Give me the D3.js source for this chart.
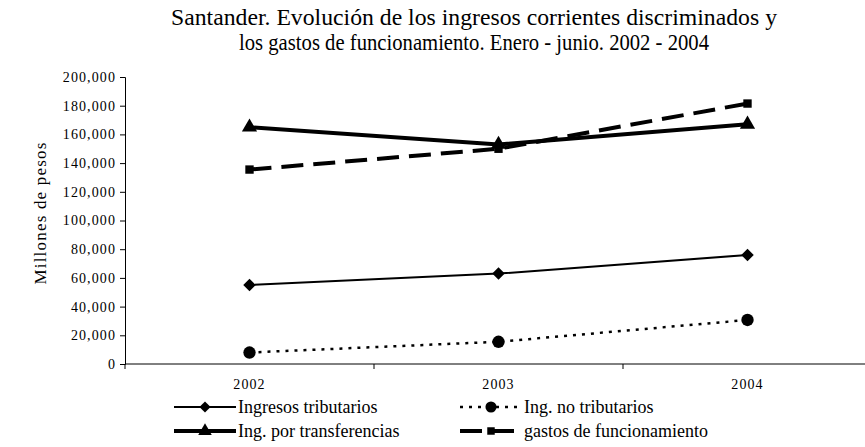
<!DOCTYPE html>
<html><head><meta charset="utf-8">
<script src="https://cdn.jsdelivr.net/npm/d3@7"></script>
<style>body{margin:0;background:#fff}svg{display:block}</style>
</head><body>
<svg id="c" width="865" height="447"></svg>
<script>
const years = ["2002","2003","2004"];
const tributarios = [55000, 63000, 76000];
const noTributarios = [8000, 15500, 30700];
const transferencias = [165000, 153000, 167000];
const gastos = [135500, 150000, 181500];
const yTicks = [0,20000,40000,60000,80000,100000,120000,140000,160000,180000,200000];
const seriesNames = ["Ingresos tributarios","Ing. no tributarios","Ing. por transferencias","gastos de funcionamiento"];
const titleLines = ["Santander. Evolución de los ingresos corrientes discriminados y","los gastos de funcionamiento. Enero - junio. 2002 - 2004"];

const SERIF = "'Liberation Serif', 'Times New Roman', serif";
const svg = d3.select("#c");
const x = d3.scaleBand().domain(years).range([125, 872]);
const y = d3.scaleLinear().domain([0, 200000]).range([364, 77]);

// title
svg.append("g").selectAll("text").data(titleLines).join("text")
  .attr("x", 474).attr("y", (d,i)=>25 + i*25)
  .attr("text-anchor","middle")
  .attr("textLength", (d,i)=> i===0 ? 606 : 470)
  .attr("lengthAdjust","spacingAndGlyphs")
  .style("font-family",SERIF).style("font-size","23.5px").style("fill","#000")
  .text(d=>d);

// y axis
const ya = svg.append("g").attr("transform","translate(125,0)")
  .call(d3.axisLeft(y).tickValues(yTicks).tickSize(5).tickPadding(4).tickFormat(d3.format(",")));
ya.attr("font-family", null);
ya.select(".domain").attr("stroke","#000");
ya.selectAll("line").attr("stroke","#000");
ya.selectAll("text").style("font-family",SERIF).style("font-size","14px")
  .style("letter-spacing","1.1px").style("fill","#000");

// x axis
const xa = svg.append("g").attr("transform","translate(0,364)")
  .call(d3.axisBottom(x).tickSize(0).tickPadding(0).tickFormat(""));
xa.select(".domain").attr("stroke","#000").attr("d","M125,0H865");
const bounds = years.map(d => x(d));
svg.append("g").selectAll("line").data(bounds).join("line")
  .attr("x1",d=>d).attr("x2",d=>d).attr("y1",364).attr("y2",369).attr("stroke","#000");
svg.append("g").selectAll("text").data(years).join("text")
  .attr("x", d=>x(d)+x.bandwidth()/2).attr("y", 389)
  .attr("text-anchor","middle")
  .style("font-family",SERIF).style("font-size","14px").style("letter-spacing","1.1px")
  .text(d=>d);

// y label
svg.append("text").attr("transform","translate(46,213) rotate(-90)")
  .attr("text-anchor","middle")
  .style("font-family",SERIF).style("font-size","17px").style("letter-spacing","1.2px")
  .text("Millones de pesos");

const cx = d => x(d)+x.bandwidth()/2;
const styles = [
  {vals: tributarios, w: 2, dash: null, sym: d3.symbolSquare, size: 78, rot: 45},
  {vals: noTributarios, w: 2.5, dash: "3,6", sym: d3.symbolCircle, size: 120, rot: 0},
  {vals: transferencias, w: 4, dash: null, sym: d3.symbolTriangle, size: 100, rot: 0},
  {vals: gastos, w: 4, dash: "22,10", sym: d3.symbolSquare, size: 70, rot: 0}
];
const line = d3.line().x((d,i)=>cx(years[i])).y(d=>y(d));
styles.forEach(s => {
  svg.append("path").attr("d", line(s.vals)).attr("fill","none").attr("stroke","#000")
    .attr("stroke-width", s.w).attr("stroke-dasharray", s.dash);
  svg.append("g").selectAll("path").data(s.vals).join("path")
    .attr("transform",(d,i)=>`translate(${cx(years[i])},${y(d)}) rotate(${s.rot})`)
    .attr("d", d3.symbol(s.sym, s.size)()).attr("fill","#000");
});

// legend
const legPos = [[174,407],[460,407],[174,431],[460,431]];
styles.forEach((s,i) => {
  const [lx,ly] = legPos[i];
  const g = svg.append("g").attr("transform",`translate(${lx},${ly})`);
  g.append("line").attr("x1",0).attr("x2",62).attr("y1",0).attr("y2",0)
    .attr("stroke","#000").attr("stroke-width",s.w).attr("stroke-dasharray", s.dash);
  g.append("path").attr("transform",`translate(31,0) rotate(${s.rot})`).attr("d", d3.symbol(s.sym, s.size*0.8)()).attr("fill","#000");
  g.append("text").attr("x",64).attr("y",6)
    .style("font-family",SERIF).style("font-size","18px")
    .text(seriesNames[i]);
});
</script>
</body></html>
